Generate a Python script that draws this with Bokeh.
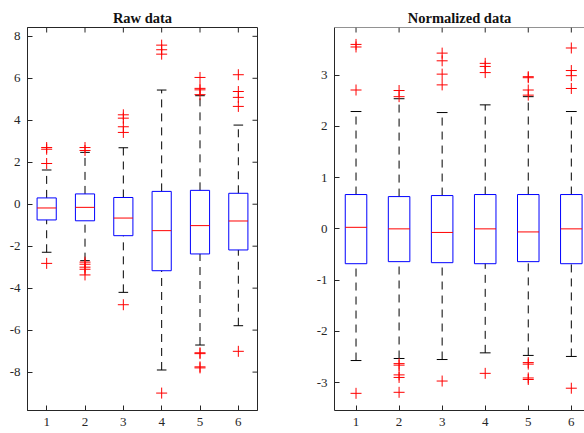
from math import pi
from bokeh.plotting import figure
from bokeh.models import Range1d, FixedTicker, Span
from bokeh.layouts import row
from bokeh.embed import file_html
from bokeh.resources import INLINE

groups = [1, 2, 3, 4, 5, 6]
tick_labels = {1: "1", 2: "2", 3: "3", 4: "4", 5: "5", 6: "6"}

# Raw data box statistics
raw_q1 = [-0.75, -0.79, -1.50, -3.17, -2.37, -2.18]
raw_median = [-0.18, -0.15, -0.66, -1.26, -1.02, -0.80]
raw_q3 = [0.30, 0.49, 0.32, 0.61, 0.66, 0.52]
raw_lower = [-2.29, -2.69, -4.20, -7.90, -6.71, -5.79]
raw_upper = [1.63, 2.47, 2.69, 5.44, 5.17, 3.77]
raw_outliers = [
    [2.70, 2.62, 1.94, -2.82],
    [2.70, 2.56, -2.76, -2.86, -3.00, -3.10, -3.37],
    [4.26, 4.10, 3.69, 3.42, -4.79],
    [7.58, 7.36, 7.15, -9.00],
    [6.04, 5.52, 5.45, 5.22, -7.08, -7.12, -7.75, -7.80],
    [6.17, 5.37, 5.09, 4.66, -7.01],
]
raw_yticks = [-8, -6, -4, -2, 0, 2, 4, 6, 8]

# Normalized data box statistics
norm_q1 = [-0.68, -0.64, -0.66, -0.68, -0.64, -0.68]
norm_median = [0.03, 0.00, -0.07, 0.00, -0.06, 0.00]
norm_q3 = [0.67, 0.63, 0.65, 0.67, 0.67, 0.67]
norm_lower = [-2.57, -2.53, -2.55, -2.42, -2.47, -2.49]
norm_upper = [2.29, 2.54, 2.27, 2.42, 2.58, 2.29]
norm_outliers = [
    [3.60, 3.55, 2.71, -3.21],
    [2.70, 2.58, -2.63, -2.66, -2.85, -2.90, -3.19],
    [3.43, 3.28, 3.02, 2.81, -2.97],
    [3.23, 3.17, 3.05, -2.82],
    [2.97, 2.95, 2.71, 2.61, -2.61, -2.64, -2.91, -2.94],
    [3.53, 3.09, 2.99, 2.74, -3.11],
]
norm_yticks = [-3, -2, -1, 0, 1, 2, 3]

FONT = "Liberation Serif"
AX = "#262626"
BOX_W = 0.5
CAP_W = 0.25
TICK = 5


def make_plot(title, q1, med, q3, lo, hi, outl, xr, yr, yticks, width, bl, br, full_box):
    p = figure(width=width, height=433, x_range=Range1d(*xr), y_range=Range1d(*yr),
               output_backend="svg", toolbar_location=None,
               min_border_left=bl, min_border_right=br,
               min_border_top=27, min_border_bottom=23)
    p.title.text = title
    p.title.text_font = FONT
    p.title.text_font_size = "14.5px"
    p.title.text_font_style = "bold"
    p.title.align = "center"
    p.title.text_color = "#111111"
    p.title.standoff = 4
    p.grid.visible = False
    p.outline_line_color = AX if full_box else None
    p.background_fill_color = "white"
    p.border_fill_color = "white"

    p.xaxis.ticker = FixedTicker(ticks=groups)
    p.xaxis.major_label_overrides = tick_labels
    p.yaxis.ticker = FixedTicker(ticks=yticks)
    p.yaxis.major_label_overrides = {t: str(t) for t in yticks}
    for ax in list(p.xaxis) + list(p.yaxis):
        ax.axis_line_color = AX
        ax.major_tick_line_color = AX
        ax.major_tick_in = TICK
        ax.major_tick_out = 0
        ax.minor_tick_line_color = None
        ax.major_label_text_font = FONT
        ax.major_label_text_font_size = "13px"
        ax.major_label_text_color = AX
    p.xaxis.major_label_standoff = 7
    p.yaxis.major_label_standoff = 7

    # mirrored tick marks on the top (and right) edge
    p.ray(x=groups, y=[yr[1]] * len(groups), length=TICK, length_units="screen",
          angle=-pi / 2, line_color=AX, line_width=1)
    if full_box:
        p.ray(x=[xr[1]] * len(yticks), y=yticks, length=TICK, length_units="screen",
              angle=pi, line_color=AX, line_width=1)
    else:
        p.add_layout(Span(location=yr[1], dimension="width", line_color=AX, line_width=1))

    # whiskers
    p.segment(x0=groups, x1=groups, y0=q3, y1=hi, line_color="black", line_dash="8 6", line_width=1)
    p.segment(x0=groups, x1=groups, y0=lo, y1=q1, line_color="black", line_dash="8 6", line_width=1)
    # caps
    p.segment(x0=[g - CAP_W / 2 for g in groups], x1=[g + CAP_W / 2 for g in groups],
              y0=hi, y1=hi, line_color="black", line_width=1)
    p.segment(x0=[g - CAP_W / 2 for g in groups], x1=[g + CAP_W / 2 for g in groups],
              y0=lo, y1=lo, line_color="black", line_width=1)
    # boxes
    p.vbar(x=groups, width=BOX_W, bottom=q1, top=q3, fill_color=None,
           line_color="#0000ff", line_width=1)
    # medians
    p.segment(x0=[g - BOX_W / 2 for g in groups], x1=[g + BOX_W / 2 for g in groups],
              y0=med, y1=med, line_color="#ff0000", line_width=1)
    # outliers
    ox = [g for g, vals in zip(groups, outl) for _ in vals]
    oy = [v for vals in outl for v in vals]
    p.scatter(x=ox, y=oy, marker="cross", size=11, line_color="#ff0000", line_width=1)
    return p


p1 = make_plot("Raw data", raw_q1, raw_median, raw_q3, raw_lower, raw_upper, raw_outliers,
               (0.5, 6.5), (-9.83, 8.42), raw_yticks, 292, 27, 35, True)
p2 = make_plot("Normalized data", norm_q1, norm_median, norm_q3, norm_lower, norm_upper, norm_outliers,
               (0.5, 6.306), (-3.545, 3.93), norm_yticks, 292, 42, 0, False)

layout = row(p1, p2)
open("out.html", "w").write(file_html(layout, INLINE))
